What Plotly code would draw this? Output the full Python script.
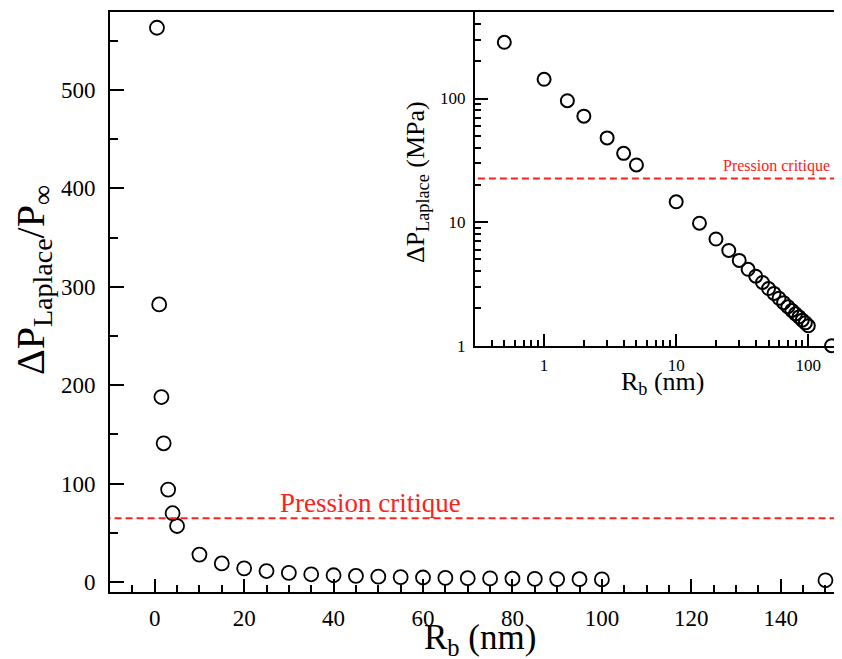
import plotly.graph_objects as go

# ---- data ----
R_nm = [0.5, 1, 1.5, 2, 3, 4, 5, 10, 15, 20, 25, 30, 35, 40, 45, 50, 55, 60, 65,
        70, 75, 80, 85, 90, 95, 100, 150]
ratio_main = [563, 282, 188, 141, 94, 70, 57, 28, 19, 14, 11.3, 9.4, 8, 7, 6.3,
              5.6, 5.1, 4.7, 4.3, 4.0, 3.8, 3.5, 3.3, 3.1, 3.0, 2.8, 1.9]
dp_mpa = [285, 143, 96, 72, 48, 36, 29, 14.6, 9.8, 7.3, 5.9, 4.9, 4.15, 3.65, 3.25,
          2.9, 2.65, 2.42, 2.23, 2.07, 1.93, 1.81, 1.71, 1.61, 1.53, 1.45, 1.0]
crit_main = 65
crit_inset = 22.5
crit_label = "Pression critique"

main_xticks = [0, 20, 40, 60, 80, 100, 120, 140]
main_yticks = [0, 100, 200, 300, 400, 500]
log_ticks = [1, 10, 100]
log_ticklabels = ["1", "10", "100"]

# page body has an 8px margin: shrink the figure so it fills the 842x659 window
OFF = 8
W, H = 842 - OFF, 659 - OFF
L, T, B = 110 - OFF, 12 - OFF, 592 - OFF      # main plot box (figure pixels)
PW, PH = W - L, B - T


def px(xp, yp):
    """reference-window pixels -> paper coords"""
    return (xp - OFF - L) / PW, (B - (yp - OFF)) / PH


FONT = "Liberation Serif"
fig = go.Figure()

# main plot
fig.add_trace(go.Scatter(
    x=R_nm, y=ratio_main, mode="markers",
    marker=dict(symbol="circle-open", size=14, color="black",
                line=dict(width=1.8, color="black")),
    xaxis="x", yaxis="y", showlegend=False))
fig.add_trace(go.Scatter(
    x=[-100, 1000], y=[crit_main, crit_main], mode="lines",
    line=dict(color="#ff2020", width=2, dash="7px,4px"),
    xaxis="x", yaxis="y", showlegend=False))

# inset
fig.add_trace(go.Scatter(
    x=R_nm, y=dp_mpa, mode="markers",
    marker=dict(symbol="circle-open", size=13, color="black",
                line=dict(width=2, color="black")),
    xaxis="x2", yaxis="y2", showlegend=False, cliponaxis=False))
fig.add_trace(go.Scatter(
    x=[0.01, 10000], y=[crit_inset, crit_inset], mode="lines",
    line=dict(color="#ff2020", width=2, dash="7px,4px"),
    xaxis="x2", yaxis="y2", showlegend=False))

ix0, _ = px(475, 0)
_, iy0 = px(0, 345.7)

axis_common = dict(showgrid=False, zeroline=False, showline=True, linecolor="black",
                   linewidth=2, ticks="inside", tickcolor="black", tickwidth=2,
                   tickfont=dict(family=FONT, size=23, color="black"))

fig.update_layout(
    width=W, height=H,
    margin=dict(l=L, r=0, t=T, b=H - B, pad=0),
    paper_bgcolor="white", plot_bgcolor="rgba(0,0,0,0)",
    font=dict(family=FONT, color="black"),
    xaxis=dict(**axis_common, domain=[0, 1], range=[-10, 153.7], anchor="y",
               tickvals=main_xticks, ticklen=13, mirror=True,
               ticklabelstandoff=4,
               minor=dict(dtick=5, tick0=0, ticks="inside", ticklen=7,
                          tickcolor="black", tickwidth=2)),
    yaxis=dict(**axis_common, domain=[0, 1], range=[-10, 579], anchor="x",
               tickvals=main_yticks, ticklen=14, ticklabelstandoff=8,
               minor=dict(dtick=50, tick0=0, ticks="inside", ticklen=8,
                          tickcolor="black", tickwidth=2)),
    xaxis2=dict(showgrid=False, zeroline=False, showline=True, linecolor="black",
                linewidth=2, ticks="inside", tickcolor="black", tickwidth=2,
                type="log", domain=[ix0, 1], range=[-0.523, 2.255], anchor="y2",
                tickvals=log_ticks, ticktext=log_ticklabels, ticklen=12,
                ticklabelstandoff=3,
                tickfont=dict(family=FONT, size=17, color="black"),
                minor=dict(tickvals=[0.4, 0.5, 0.6, 0.7, 0.8, 0.9, 2, 3, 4, 5, 6, 7, 8, 9,
                                     20, 30, 40, 50, 60, 70, 80, 90],
                           ticks="inside", ticklen=6, tickcolor="black", tickwidth=2)),
    yaxis2=dict(showgrid=False, zeroline=False, showline=True, linecolor="black",
                linewidth=2, ticks="inside", tickcolor="black", tickwidth=2,
                type="log", domain=[iy0, 1], range=[0, 2.70], anchor="x2",
                tickvals=log_ticks, ticktext=log_ticklabels, ticklen=13,
                ticklabelstandoff=4,
                tickfont=dict(family=FONT, size=17, color="black"),
                minor=dict(tickvals=[2, 3, 4, 5, 6, 7, 8, 9, 20, 30, 40, 50, 60, 70,
                                     80, 90, 200, 300, 400],
                           ticks="inside", ticklen=6, tickcolor="black", tickwidth=2)),
)

ann = []


def add_text(text, xp, yp, size, color="black", angle=0, xanchor="center"):
    x, y = px(xp, yp)
    ann.append(dict(text=text, x=x, y=y, xref="paper", yref="paper",
                    xanchor=xanchor, yanchor="middle", showarrow=False,
                    textangle=angle, font=dict(family=FONT, size=size, color=color)))


add_text("R<sub>b</sub> (nm)", 480, 639, 35)
add_text("ΔP<sub>Laplace</sub>/P<sub>∞</sub>", 33, 280, 40, angle=-90)
add_text(crit_label, 370, 503, 27, color="#ff2020")
add_text("R<sub>b</sub> (nm)", 662, 383, 26)
add_text("ΔP<sub>Laplace</sub> (MPa)", 417, 182, 26, angle=-90)
add_text(crit_label, 832, 166, 16, color="#ff2020", xanchor="right")

fig.update_layout(annotations=ann)
fig.write_html("out.html")
